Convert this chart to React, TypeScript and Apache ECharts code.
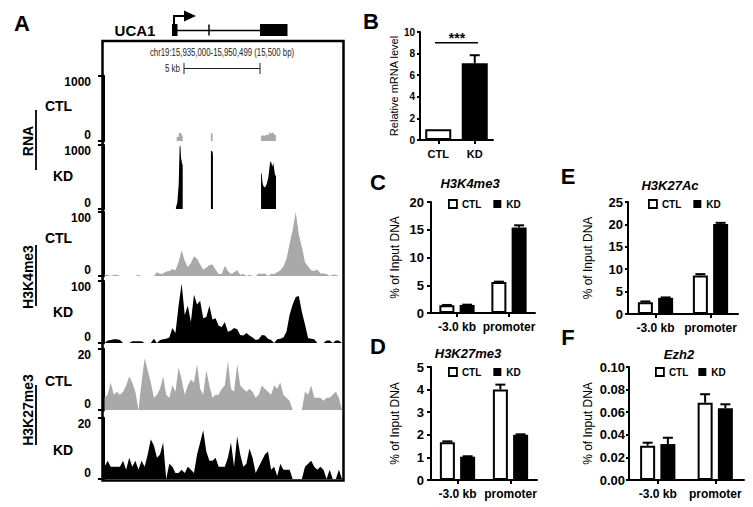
import React, { useEffect, useRef } from 'react';
import * as echarts from 'echarts';

const FONT = '"Liberation Sans", Arial, Helvetica, sans-serif';
const GRAY = '#a9a9a9';

// ---------- Panel A data (genomic offset in kb from chr19:15,935,000) ----------
const GENOME_SPAN_KB = 15.5;
const BIN_KB = 0.2;

// RNA-seq coverage, [kb, reads]
const rnaCtl: number[][] = [
  [4.78, 0], [4.78, 60], [4.9, 60], [4.93, 125], [5.08, 125], [5.1, 85], [5.17, 85], [5.17, 0],
  [7.0, 0], [7.0, 120], [7.11, 120], [7.11, 0],
  [10.25, 0], [10.25, 85], [10.55, 85], [10.62, 100], [10.72, 90], [10.8, 135], [10.88, 110],
  [10.98, 135], [11.06, 120], [11.12, 95], [11.21, 95], [11.21, 0],
];
const rnaKd: number[][] = [
  [4.73, 0], [4.73, 25], [4.82, 100], [4.91, 385], [4.97, 975], [5.02, 990], [5.06, 795],
  [5.1, 755], [5.14, 690], [5.17, 700], [5.17, 0],
  [7.0, 0], [7.0, 910], [7.1, 900], [7.13, 845], [7.13, 0],
  [10.25, 0], [10.25, 560], [10.29, 550], [10.34, 420], [10.4, 360], [10.51, 335], [10.61, 385],
  [10.72, 490], [10.83, 720], [10.89, 745], [10.98, 665], [11.05, 720], [11.15, 540],
  [11.22, 510], [11.22, 0],
];

// ChIP-seq coverage in 0.2 kb bins
const h3k4me3Ctl = [
  2, 2, 0, 2, 2, 0, 0, 0, 0, 0,
  0, 2, 0, 0, 0, 0, 0, 6, 3, 4,
  7, 8, 11, 9, 22, 40, 24, 14, 20, 31,
  27, 18, 10, 13, 17, 18, 10, 3, 3, 16,
  8, 3, 6, 9, 2, 3, 0, 2, 0, 0,
  4, 3, 4, 0, 3, 3, 6, 9, 15, 27,
  50, 72, 100, 65, 45, 22, 15, 9, 8, 10,
  4, 4, 3, 0, 2, 2, 0, 0,
];
const h3k4me3Kd = [
  0, 4, 5, 6, 6, 5, 0, 0, 0, 3,
  3, 3, 3, 0, 0, 0, 7, 0, 5, 6,
  7, 9, 24, 16, 60, 96, 45, 60, 34, 78,
  62, 68, 40, 42, 60, 38, 40, 28, 26, 34,
  18, 20, 24, 22, 13, 12, 16, 12, 9, 5,
  6, 13, 12, 7, 5, 0, 6, 7, 9, 18,
  45, 62, 74, 76, 50, 30, 8, 7, 6, 0,
  0, 0, 4, 4, 0, 4, 4, 0,
];
const h3k27me3Ctl = [
  4, 5, 9, 5, 6, 5, 6, 8, 11, 9,
  6, 0, 9, 17, 13, 9, 4, 5, 7, 11,
  5, 4, 8, 6, 14, 10, 5, 8, 10, 9,
  15, 7, 5, 13, 8, 4, 5, 5, 7, 8,
  16, 7, 6, 15, 8, 7, 6, 7, 6, 4,
  5, 8, 7, 6, 5, 8, 7, 9, 5, 4,
  3, 0, 0, 0, 0, 6, 5, 8, 4, 4,
  4, 3, 4, 4, 5, 6, 4, 0,
];
const h3k27me3Kd = [
  4, 6, 4, 4, 4, 4, 6, 3, 7, 4,
  6, 3, 6, 4, 8, 13, 11, 7, 8, 12,
  0, 5, 4, 2, 2, 3, 2, 4, 3, 2,
  8, 12, 16, 9, 6, 6, 7, 4, 4, 4,
  7, 12, 4, 14, 8, 4, 5, 10, 7, 2,
  4, 6, 8, 9, 3, 4, 1, 5, 3, 3,
  3, 0, 0, 0, 0, 4, 5, 6, 4, 3,
  4, 3, 0, 3, 0, 0, 3, 0,
];
const trackMax = [1000, 1000, 100, 100, 20, 20];

// ---------- Panel B ----------
const bCategories = ['CTL', 'KD'];
const bValues = [1.0, 7.1];
const bErrors = [0, 0.75];

// ---------- Panels C-F ----------
const chipCategories = ['-3.0 kb', 'promoter'];
const cCtl = [1.4, 5.6];
const cCtlErr = [0.05, 0.05];
const cKd = [1.45, 15.4];
const cKdErr = [0.05, 0.4];
const dCtl = [1.67, 4.0];
const dCtlErr = [0.04, 0.22];
const dKd = [1.03, 2.0];
const dKdErr = [0.02, 0.02];
const eCtl = [2.6, 8.6];
const eCtlErr = [0.2, 0.3];
const eKd = [3.6, 20.1];
const eKdErr = [0.1, 0.25];
const fCtl = [0.0304, 0.0684];
const fCtlErr = [0.0026, 0.0075];
const fKd = [0.0318, 0.0634];
const fKdErr = [0.0056, 0.0036];

// ---------- layout ----------
const trackGrids = [
  { top: 76, height: 65 },
  { top: 145, height: 64 },
  { top: 212, height: 64 },
  { top: 281, height: 62 },
  { top: 349, height: 61 },
  { top: 418, height: 61 },
];

function binsToPairs(bins: number[]) {
  return bins.map((v, i) => [i * BIN_KB + BIN_KB / 2, v]);
}

const errRender = (params: any, api: any) => {
  const cat = api.value(0);
  const v = api.value(1);
  const e = api.value(2);
  const off = api.value(3);
  const p0 = api.coord([cat, v]);
  const p1 = api.coord([cat, v + e]);
  const x = p0[0] + off;
  return {
    type: 'group',
    children: [
      { type: 'line', shape: { x1: x, y1: p0[1], x2: x, y2: p1[1] }, style: { stroke: '#000', lineWidth: 2 } },
      { type: 'line', shape: { x1: x - 5, y1: p1[1], x2: x + 5, y2: p1[1] }, style: { stroke: '#000', lineWidth: 2 } },
    ],
  };
};

function txt(text: string, x: number, y: number, size: number, o: any = {}) {
  return {
    type: 'text',
    x,
    y,
    rotation: o.rot || 0,
    scaleX: o.scaleX || 1,
    style: {
      text,
      fontSize: size,
      fontWeight: o.weight || 'bold',
      fontStyle: o.italic ? 'italic' : 'normal',
      fontFamily: FONT,
      fill: o.fill || '#000',
      align: o.align || 'center',
      verticalAlign: 'middle',
    },
  };
}
function ln(x1: number, y1: number, x2: number, y2: number, w = 2, c = '#000') {
  return { type: 'line', shape: { x1, y1, x2, y2 }, style: { stroke: c, lineWidth: w } };
}

function buildOption() {
  const grid: any[] = [];
  const xAxis: any[] = [];
  const yAxis: any[] = [];
  const series: any[] = [];

  // ---- Panel A tracks ----
  const trackData = [
    { name: 'RNA CTL', data: rnaCtl, color: GRAY },
    { name: 'RNA KD', data: rnaKd, color: '#000' },
    { name: 'H3K4me3 CTL', data: binsToPairs(h3k4me3Ctl), color: GRAY },
    { name: 'H3K4me3 KD', data: binsToPairs(h3k4me3Kd), color: '#000' },
    { name: 'H3K27me3 CTL', data: binsToPairs(h3k27me3Ctl), color: GRAY },
    { name: 'H3K27me3 KD', data: binsToPairs(h3k27me3Kd), color: '#000' },
  ];
  trackData.forEach((t, i) => {
    grid.push({ left: 103, width: 239, top: trackGrids[i].top, height: trackGrids[i].height });
    xAxis.push({ gridIndex: i, type: 'value', min: 0, max: GENOME_SPAN_KB, show: false });
    yAxis.push({
      gridIndex: i,
      type: 'value',
      min: 0,
      max: trackMax[i],
      interval: trackMax[i],
      axisLine: { show: true, lineStyle: { color: '#000', width: 3 } },
      axisTick: { show: true, length: 5, lineStyle: { color: '#000', width: 2 } },
      axisLabel: {
        fontFamily: FONT,
        fontWeight: 'bold',
        fontSize: 12,
        color: '#000',
        margin: 12,
        formatter: (v: number) => String(v),
        verticalAlignMinLabel: 'bottom',
        verticalAlignMaxLabel: 'top',
      },
      splitLine: { show: false },
    });
    series.push({
      name: t.name,
      type: 'line',
      xAxisIndex: i,
      yAxisIndex: i,
      data: t.data,
      symbol: 'none',
      showSymbol: false,
      silent: true,
      lineStyle: { width: 0, color: t.color },
      itemStyle: { color: t.color },
      areaStyle: { color: t.color, opacity: 1 },
    });
  });

  const valueAxisCommon = (gi: number, max: number, interval: number, name: string, nameGap: number, labelSize: number, labelMargin: number, tickLen: number, fmt?: (v: number) => string) => ({
    gridIndex: gi,
    type: 'value',
    min: 0,
    max,
    interval,
    name,
    nameLocation: 'middle',
    nameGap,
    nameTextStyle: { fontFamily: FONT, fontSize: gi === 6 ? 11 : 12, color: '#000' },
    axisLine: { show: true, lineStyle: { color: '#000', width: 2 } },
    axisTick: { show: true, length: tickLen, lineStyle: { color: '#000', width: 2 } },
    axisLabel: { fontFamily: FONT, fontWeight: 'bold', fontSize: labelSize, color: '#000', margin: labelMargin, formatter: fmt },
    splitLine: { show: false },
  });
  const catAxisCommon = (gi: number, data: string[], size: number) => ({
    gridIndex: gi,
    type: 'category',
    data,
    axisLine: { show: true, lineStyle: { color: '#000', width: 2 } },
    axisTick: { show: true, alignWithLabel: true, interval: 0, length: 4, lineStyle: { color: '#000', width: 2 } },
    axisLabel: { fontFamily: FONT, fontWeight: 'bold', fontSize: size, color: '#000', margin: 8, interval: 0, hideOverlap: false },
  });

  // ---- Panel B ----
  grid.push({ left: 420, top: 32, width: 73, height: 108 });
  xAxis.push(catAxisCommon(6, bCategories, 11));
  yAxis.push(valueAxisCommon(6, 10, 2, 'Relative mRNA level', 19, 10, 5, 3));
  series.push({
    name: 'mRNA',
    type: 'bar',
    xAxisIndex: 6,
    yAxisIndex: 6,
    barWidth: 26,
    silent: true,
    data: bValues.map((v, i) => ({
      value: v,
      itemStyle: i === 0 ? { color: '#fff', borderColor: '#000', borderWidth: 2 } : { color: '#000' },
    })),
    z: 2,
  });
  series.push({
    name: 'mRNA err',
    type: 'custom',
    xAxisIndex: 6,
    yAxisIndex: 6,
    silent: true,
    z: 3,
    renderItem: errRender,
    data: bValues.map((v, i) => [i, v, bErrors[i], 0]).filter((d) => d[2] > 0),
  });

  // ---- Panels C-F ----
  const panels = [
    { gi: 7, grid: { left: 431, top: 202, width: 104, height: 111 }, max: 20, interval: 5, nameGap: 30, margin: 7, tick: 4, ctl: cCtl, ctlErr: cCtlErr, kd: cKd, kdErr: cKdErr },
    { gi: 8, grid: { left: 431, top: 367, width: 106, height: 113 }, max: 5, interval: 1, nameGap: 30, margin: 7, tick: 4, ctl: dCtl, ctlErr: dCtlErr, kd: dKd, kdErr: dKdErr },
    { gi: 9, grid: { left: 628, top: 202, width: 110, height: 112 }, max: 25, interval: 5, nameGap: 34, margin: 5, tick: 3, ctl: eCtl, ctlErr: eCtlErr, kd: eKd, kdErr: eKdErr },
    { gi: 10, grid: { left: 629, top: 367, width: 115, height: 113 }, max: 0.1, interval: 0.02, nameGap: 35, margin: 4, tick: 3, ctl: fCtl, ctlErr: fCtlErr, kd: fKd, kdErr: fKdErr, fmt: (v: number) => v.toFixed(2) },
  ];
  const BW = 15;
  const OFF = (BW + BW * 0.35) / 2;
  panels.forEach((p) => {
    grid.push(p.grid);
    xAxis.push(catAxisCommon(p.gi, chipCategories, 12));
    yAxis.push(valueAxisCommon(p.gi, p.max, p.interval, '% of Input DNA', p.nameGap, 13, p.margin, p.tick, p.fmt));
    series.push({
      name: 'CTL', type: 'bar', xAxisIndex: p.gi, yAxisIndex: p.gi, barWidth: BW, barGap: '35%', silent: true, z: 2,
      itemStyle: { color: '#fff', borderColor: '#000', borderWidth: 2 },
      data: p.ctl,
    });
    series.push({
      name: 'KD', type: 'bar', xAxisIndex: p.gi, yAxisIndex: p.gi, barWidth: BW, barGap: '35%', silent: true, z: 2,
      itemStyle: { color: '#000' },
      data: p.kd,
    });
    series.push({
      name: 'err', type: 'custom', xAxisIndex: p.gi, yAxisIndex: p.gi, silent: true, z: 3,
      renderItem: errRender,
      data: [
        ...p.ctl.map((v, i) => [i, v, p.ctlErr[i], -OFF]),
        ...p.kd.map((v, i) => [i, v, p.kdErr[i], OFF]),
      ],
    });
  });

  const legendBase = (left: number, top: number, gap: number) => ({
    left, top, orient: 'horizontal', padding: 0, itemWidth: 8, itemHeight: 8, itemGap: gap, icon: 'rect', selectedMode: false,
    textStyle: { fontFamily: FONT, fontSize: 10, fontWeight: 'bold', color: '#000' },
    data: [
      { name: 'CTL', itemStyle: { color: '#fff', borderColor: '#000', borderWidth: 1.8 } },
      { name: 'KD', itemStyle: { color: '#000', borderWidth: 0 } },
    ],
  });

  const graphic: any[] = [
    // panel letters
    txt('A', 22, 23, 22),
    txt('B', 371, 21, 22),
    txt('C', 378, 182, 22),
    txt('D', 378, 346, 22),
    txt('E', 568, 176, 22),
    txt('F', 568, 337, 22),
    // gene model
    txt('UCA1', 135, 30, 15),
    { type: 'rect', shape: { x: 172, y: 24, width: 5.5, height: 12 }, style: { fill: '#000' } },
    ln(177, 30.5, 260, 30.5, 1.5),
    ln(209, 24.5, 209, 35.5, 1.5),
    { type: 'rect', shape: { x: 260, y: 24, width: 27.5, height: 12 }, style: { fill: '#000' } },
    { type: 'polyline', shape: { points: [[174, 25], [174, 16], [184, 16]] }, style: { stroke: '#000', lineWidth: 2, fill: 'none' } },
    { type: 'polygon', shape: { points: [[184, 10.5], [196, 16], [184, 21.5]] }, style: { fill: '#000' } },
    // browser box
    { type: 'rect', shape: { x: 102.5, y: 41, width: 241, height: 439.5 }, style: { fill: 'none', stroke: '#000', lineWidth: 2.5 }, z: 10 },
    txt('chr19:15,935,000-15,950,499 (15,500 bp)', 222, 53, 10, { weight: 'normal', scaleX: 0.78, fill: '#222' }),
    txt('5 kb', 180, 69, 10, { weight: 'normal', scaleX: 0.8, fill: '#222', align: 'right' }),
    ln(184, 68.5, 260, 68.5, 1, '#222'),
    ln(184, 63, 184, 74, 1, '#222'),
    ln(260, 63, 260, 74, 1, '#222'),
    // track labels
    txt('CTL', 58.5, 106, 14),
    txt('KD', 63, 176, 14),
    txt('RNA', 27.5, 141, 14, { rot: Math.PI / 2 }),
    ln(36, 110, 36, 170, 1.8),
    txt('CTL', 58.5, 238, 14),
    txt('KD', 63, 312, 14),
    txt('H3K4me3', 27.5, 277, 14, { rot: Math.PI / 2 }),
    ln(36, 245, 36, 306, 1.8),
    txt('CTL', 58.5, 381, 14),
    txt('KD', 63, 450, 14),
    txt('H3K27me3', 27.5, 410, 14, { rot: Math.PI / 2 }),
    ln(36, 385, 36, 445, 1.8),
    // panel B significance
    ln(435, 42.7, 478, 42.7, 1.5),
    txt('***', 457, 38, 14),
    // titles
    txt('H3K4me3', 470, 183, 13, { italic: true }),
    txt('H3K27me3', 468, 353, 13, { italic: true }),
    txt('H3K27Ac', 670, 185, 13, { italic: true }),
    txt('Ezh2', 679, 354, 13, { italic: true }),
  ];

  return {
    animation: false,
    backgroundColor: '#fff',
    textStyle: { fontFamily: FONT },
    grid,
    xAxis,
    yAxis,
    series,
    legend: [legendBase(448, 199, 12), legendBase(448, 367, 12), legendBase(648, 199, 12), legendBase(655, 367, 10)],
    graphic,
  };
}

export default function App() {
  const ref = useRef<HTMLDivElement>(null);
  useEffect(() => {
    if (!ref.current) return;
    const chart = echarts.init(ref.current, undefined, { renderer: 'svg' });
    chart.setOption(buildOption() as any);
    return () => chart.dispose();
  }, []);
  return (
    <div
      ref={ref}
      style={{ position: 'absolute', left: 0, top: 0, width: 753, height: 507, background: '#fff' }}
    />
  );
}
